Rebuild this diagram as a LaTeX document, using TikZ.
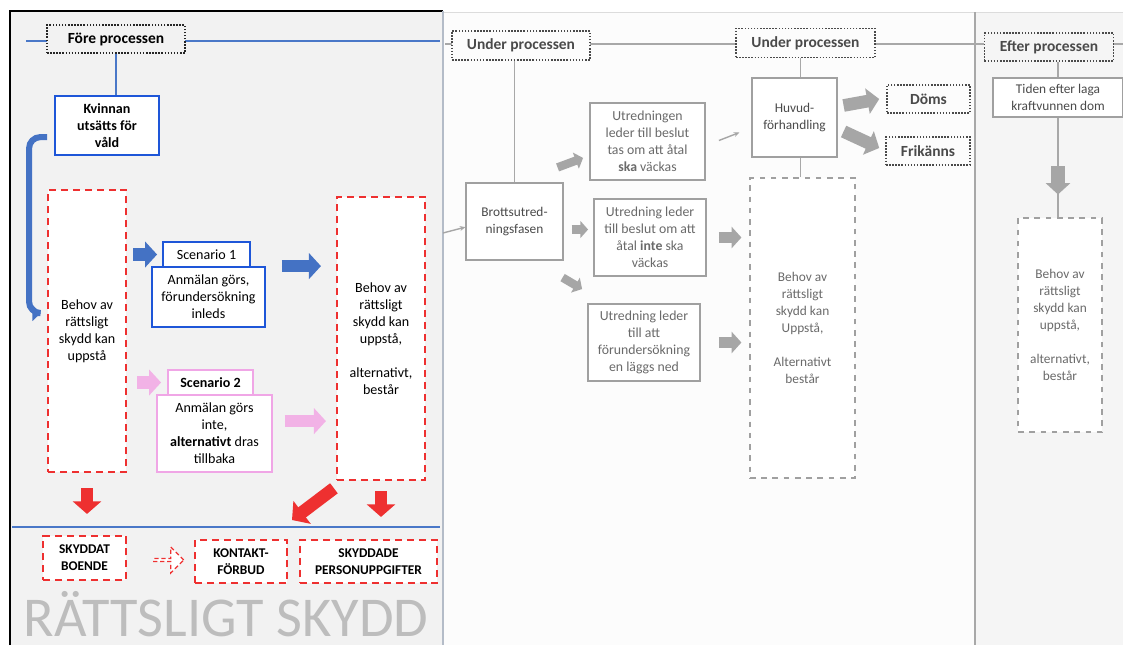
\documentclass[tikz,border=0pt]{standalone}
\usepackage{fontspec}
\setmainfont{Carlito}
\usetikzlibrary{arrows.meta,shapes.arrows}

\definecolor{panelgray}{HTML}{F2F2F2}
\definecolor{midwhite}{HTML}{FCFCFC}
\definecolor{rightgray}{HTML}{F5F5F5}
\definecolor{edgegray}{HTML}{B4BCC8}
\definecolor{linegray}{HTML}{A8A8A8}
\definecolor{lineblue}{HTML}{4A78C8}
\definecolor{arrowblue}{HTML}{4472C4}
\definecolor{boxblue}{HTML}{1E56D8}
\definecolor{boxpink}{HTML}{F0A6E6}
\definecolor{arrowpink}{HTML}{F2B2E6}
\definecolor{dashred}{HTML}{EE3030}
\definecolor{fatgray}{HTML}{A6A6A6}
\definecolor{midgray}{HTML}{A0A0A0}
\definecolor{midtext}{HTML}{6A6A6A}
\definecolor{darktext}{HTML}{4A4A4A}
\definecolor{titlegray}{HTML}{BDBDBD}

\tikzset{
  every node/.style={align=center, font=\fontsize{10}{12.1}\selectfont},
  phase/.style={draw=black!85, line width=1.1pt, dash pattern=on 1.1pt off 1.1pt,
    font=\bfseries\fontsize{11}{13}\selectfont, inner sep=0pt},
  bluebox/.style={draw=boxblue, line width=1.3pt, fill=white, inner sep=1pt},
  pinkbox/.style={draw=boxpink, line width=1.3pt, fill=white, inner sep=1pt},
  reddash/.style={draw=dashred, line width=1.5pt, dash pattern=on 5pt off 3.5pt,
    fill=white, inner sep=1pt},
  bottombox/.style={reddash, font=\bfseries\fontsize{9.5}{12.1}\selectfont},
  midbox/.style={draw=midgray, line width=0.8pt, fill=white, text=darktext,
    font=\fontsize{9.5}{12.1}\selectfont, inner sep=1pt},
  utrbox/.style={midbox, line width=1.3pt, text=midtext, font=\fontsize{9.8}{12.1}\selectfont},
  middash/.style={draw=midgray, line width=0.8pt, dash pattern=on 4pt off 4pt,
    fill=white, text=midtext, font=\fontsize{9.5}{12.1}\selectfont},
  fatarrow/.style={line width=9pt, -{Triangle[length=8.5pt,width=18pt]}},
  bluefat/.style={fatarrow, draw=arrowblue, fill=arrowblue},
  pinkfat/.style={fatarrow, draw=arrowpink, fill=arrowpink},
  redfat/.style={line width=9pt, draw=dashred, fill=dashred,
    -{Triangle[length=9pt,width=20pt]}},
  grayfat/.style={fatarrow, draw=fatgray, fill=fatgray},
  graymid/.style={line width=8pt, draw=fatgray, fill=fatgray,
    -{Triangle[length=7pt,width=15pt]}},
  graysmall/.style={line width=6pt, draw=fatgray, fill=fatgray,
    -{Triangle[length=5.5pt,width=12pt]}},
  graythin/.style={draw=fatgray, line width=1pt, -{Stealth[length=4pt,width=3.5pt]}},
  timeline/.style={line width=0.8pt},
}

\begin{document}
\begin{tikzpicture}[x=0.025cm, y=-0.025cm]
\useasboundingbox (0,0) rectangle (1123,645);

% panels
\fill[white] (0,0) rectangle (1123,645);
\fill[midwhite] (443,12) rectangle (975,645);
\fill[rightgray] (975,12) rectangle (1123,645);
\draw[linegray!40, line width=0.6pt] (443,12) -- (1123,12);
\fill[panelgray] (10,11) rectangle (443,645);
\draw[line width=1.2pt] (10,645) -- (10,11) -- (443,11);
\draw[edgegray, line width=2pt] (443,11) -- (443,645);
\draw[linegray, line width=0.8pt] (975,12) -- (975,645);

% time lines
\draw[timeline, lineblue] (26,41) -- (440,41);
\draw[timeline, lineblue] (12,527) -- (440,527);
\draw[timeline, linegray] (445,44) -- (1123,44);

% before the process
\node[phase, fill=panelgray, minimum width=3.45cm, minimum height=0.7cm] (fore) at (116,39) {Före processen};
\node[bluebox, font=\bfseries\fontsize{10}{12.1}\selectfont, minimum width=2.6cm, minimum height=1.475cm] (kvinna) at (107,125.5) {Kvinnan\\utsätts för\\våld};
\node[reddash, minimum width=1.95cm, minimum height=7.05cm] (behov1) at (87,331) {Behov av\\rättsligt\\skydd kan\\uppstå};
\node[bluebox, minimum width=2.825cm, minimum height=1.5cm] (sc1) at (208.5,297) {Anmälan görs,\\förundersökning\\inleds};
\node[bluebox, minimum width=2.175cm, minimum height=0.625cm] (sc1tab) at (206.5,254.5) {Scenario 1};
\node[reddash, minimum width=2.2cm, minimum height=7.075cm] (behov2) at (381,338.5) {Behov av\\rättsligt\\skydd kan\\uppstå,\\[12.1pt]alternativt,\\består};
\node[pinkbox, minimum width=2.875cm, minimum height=1.925cm] (sc2) at (214.5,433.5) {Anmälan görs\\inte,\\\textbf{alternativt} dras\\tillbaka};
\node[pinkbox, font=\bfseries\fontsize{10}{12.1}\selectfont, minimum width=2.125cm, minimum height=0.625cm] (sc2tab) at (210.5,382.5) {Scenario 2};

% legal protection
\node[bottombox, minimum width=2.075cm, minimum height=1.1cm] (skbo) at (84.5,558) {SKYDDAT\\BOENDE};
\node[single arrow, draw=dashred, line width=0.9pt, dash pattern=on 3pt off 2pt, fill=white, minimum width=0.65cm, minimum height=0.75cm, single arrow head extend=0.13cm, inner sep=0pt] (hollow) at (168,560) {};
\node[bottombox, minimum width=2.3cm, minimum height=1.075cm] (kontakt) at (241,561.5) {KONTAKT-\\FÖRBUD};
\node[bottombox, minimum width=3.425cm, minimum height=1.075cm] (pers) at (368.5,561.5) {SKYDDADE\\PERSONUPPGIFTER};
\node[text=titlegray, font=\fontsize{40}{40}\selectfont, inner sep=0pt, anchor=base] (title) at (226,636) {RÄTTSLIGT SKYDD};

\draw[timeline, lineblue] (fore.south) -- (fore.south |- kvinna.north);
\draw[arrowblue, line width=4.3pt, rounded corners=8pt, -{Triangle[length=6pt,width=11pt]}]
  ([xshift=-0.175cm,yshift=-0.29cm]kvinna.west) -- ++(-18,0) |- ([xshift=-0.15cm,yshift=0.45cm]behov1.west);
\draw[bluefat, shorten <=0.15cm, shorten >=0.125cm] (behov1.east |- sc1tab.west) -- (sc1tab.west);
\draw[bluefat, shorten <=0.4cm, shorten >=0.375cm] (sc1.north east) -- (sc1.north east -| behov2.west);
\draw[pinkfat, shorten <=0.25cm, shorten >=0.15cm] (behov1.east |- sc2tab.west) -- (sc2tab.west);
\coordinate (p2) at ([yshift=0.31cm]sc2.east);
\draw[pinkfat, shorten <=0.3cm, shorten >=0.25cm] (p2) -- (p2 -| behov2.west);
\draw[redfat, shorten <=0.375cm, shorten >=0.525cm] (behov1.south) -- (behov1.south |- skbo.north);
\draw[redfat, shorten <=0.25cm, shorten >=0.55cm] (behov2.south) -- (behov2.south |- pers.north);
\coordinate (dtip) at (292,520);
\draw[redfat] ([xshift=-0.05cm,yshift=-0.18cm]behov2.south west) -- (dtip);

% during the process
\node[phase, fill=midwhite, text=darktext, draw=darktext, minimum width=3.45cm, minimum height=0.725cm] (under1) at (521,45.5) {Under processen};
\node[phase, fill=midwhite, text=darktext, draw=darktext, minimum width=3.475cm, minimum height=0.725cm] (under2) at (805.5,43) {Under processen};
\node[midbox, minimum width=2.425cm, minimum height=1.925cm] (brott) at (514.5,221.5) {Brottsutred-\\ningsfasen};
\node[utrbox, minimum width=2.875cm, minimum height=1.925cm] (utr1) at (647.5,141.5) {Utredningen\\leder till beslut\\tas om att åtal\\\textbf{ska} väckas};
\node[utrbox, minimum width=2.8cm, minimum height=1.925cm] (utr2) at (650,237.5) {Utredning leder\\till beslut om att\\åtal \textbf{inte} ska\\väckas};
\node[utrbox, minimum width=2.8cm, minimum height=1.925cm] (utr3) at (644,342.5) {Utredning leder\\till att\\förundersökning\\en läggs ned};
\node[midbox, minimum width=2.125cm, minimum height=1.975cm] (huvud) at (794.5,117.5) {Huvud-\\förhandling};
\node[phase, fill=midwhite, text=darktext, draw=darktext, minimum width=2.075cm, minimum height=0.7cm] (doms) at (928.5,99) {Döms};
\node[phase, fill=midwhite, text=darktext, draw=darktext, minimum width=2.1cm, minimum height=0.7cm] (frik) at (928,151) {Frikänns};
\node[middash, minimum width=2.625cm, minimum height=7.5cm] (behov3) at (802.5,328) {Behov av\\rättsligt\\skydd kan\\Uppstå,\\[12.1pt]Alternativt\\består};

\draw[timeline, linegray] (brott.north) -- (brott.north |- under1.south);
\coordinate (hn) at ([xshift=0.15cm]huvud.north);
\coordinate (hs) at ([xshift=0.15cm]huvud.south);
\draw[timeline, linegray] (hn) -- (hn |- under2.south);
\draw[timeline, linegray] (hs) -- (hs |- behov3.north);
\coordinate (bin) at (443,233);
\draw[graythin] (bin) -- ([yshift=-0.14cm]brott.west);
\draw[graysmall] ([shift={(-6,-15)}]brott.north east) -- ([shift={(-6,-23)}]utr1.south west);
\draw[graysmall] ([shift={(8,8)}]brott.east) -- ([shift={(-5,-8)}]utr2.west);
\draw[graysmall] ([shift={(-1,17)}]brott.south east) -- ([shift={(-5,-14)}]utr3.north west);
\draw[graythin] ([shift={(13,-1)}]utr1.east) -- ([shift={(-12,15)}]huvud.west);
\draw[graymid, shorten <=0.3cm, shorten >=0.2cm] (utr2.east) -- (utr2.east -| behov3.west);
\draw[graymid, shorten <=0.45cm, shorten >=0.2cm] (utr3.east) -- (utr3.east -| behov3.west);
\draw[grayfat] ([shift={(6,-12)}]huvud.east) -- ([xshift=-0.175cm]doms.west);
\draw[grayfat] ([shift={(6,14)}]huvud.east) -- ([shift={(-6,-3)}]frik.west);

% after the process
\node[phase, fill=rightgray, text=darktext, draw=darktext, minimum width=3.225cm, minimum height=0.7cm] (efter) at (1049,47) {Efter processen};
\node[midbox, minimum width=3.25cm, minimum height=0.975cm] (tiden) at (1058,97.5) {Tiden efter laga\\kraftvunnen dom};
\node[middash, minimum width=2.1cm, minimum height=5.35cm] (behov4) at (1060,325) {Behov av\\rättsligt\\skydd kan\\uppstå,\\[12.1pt]alternativt,\\består};
\draw[timeline, linegray] (tiden.north) -- (tiden.north |- efter.south);
\draw[timeline, linegray] (tiden.south) -- coordinate[pos=0.49] (ta) coordinate[pos=0.77] (tb) (tiden.south |- behov4.north);
\draw[line width=10pt, draw=fatgray, fill=fatgray, -{Triangle[length=8pt,width=17pt]}] (ta) -- (tb);
\end{tikzpicture}
\end{document}
